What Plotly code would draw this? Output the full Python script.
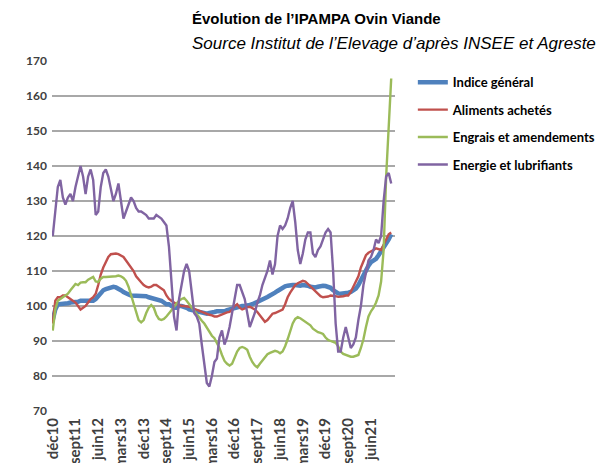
import plotly.graph_objects as go

# ---- Data (monthly, Dec 2010 -> Feb 2022) ----
mois = ["janv", "févr", "mars", "avr", "mai", "juin", "juil", "août", "sept", "oct", "nov", "déc"]
categories = []
for k in range(135):
    m = (11 + k) % 12
    a = 10 + (11 + k) // 12
    categories.append(f"{mois[m]}{a:02d}")

tick_labels = ["déc10", "sept11", "juin12", "mars13", "déc13", "sept14", "juin15", "mars16",
               "déc16", "sept17", "juin18", "mars19", "déc19", "sept20", "juin21"]
y_ticks = [70, 80, 90, 100, 110, 120, 130, 140, 150, 160, 170]

indice_general = [
    96, 99, 100.5, 100.5, 100.5, 100.5, 100.8, 101, 101, 101,
    101.2, 101.5, 101.5, 101.5, 101.7, 101.7, 101.5, 102, 103, 104,
    104.5, 104.8, 105, 105.3, 105.5, 105.3, 105, 104.5, 104, 103.5,
    103.3, 103, 103, 102.8, 102.8, 103, 103, 102.8, 102.5, 102.3,
    102, 101.8, 101.8, 101.5, 101, 100.5, 100.5, 100, 99.5, 99.5,
    100, 100, 99.8, 99.5, 99, 98.8, 98.5, 98.5, 98.3, 98,
    97.8, 97.8, 98, 98, 98.3, 98.5, 98.5, 98.3, 98.5, 98.8,
    99, 99.2, 99.5, 99.8, 100, 100, 100, 100, 100.3, 100.5,
    100.8, 101.2, 101.6, 102, 102.3, 102.6, 103, 103.3, 103.8, 104.3,
    104.8, 105.3, 105.6, 105.8, 106, 106, 106, 105.8, 105.8, 106,
    106, 105.8, 105.5, 105.3, 105.3, 105.5, 105.7, 105.8, 105.7, 105.5,
    105.2, 104.5, 104, 103.6, 103.5, 103.5, 103.6, 103.8, 104, 104.5,
    105, 106, 107.5, 109, 110.5, 111.5, 112.5, 113, 113.5, 114.5,
    115.5, 116.5, 117.5, 119, 120.5,
]

aliments_achetes = [
    95, 101.5, 102.5, 102.5, 103, 103, 102.5, 102, 101.5, 101,
    100, 99, 99.5, 100, 101, 102, 102.5, 103.5, 106, 109,
    111, 112.5, 114, 114.8, 115, 115, 114.8, 114.5, 114, 113,
    112, 111, 110, 108.5, 107.5, 106.8, 106, 105.5, 105.3, 105.5,
    106, 106, 105.5, 105, 104.5, 103, 102, 101.5, 101, 100.5,
    100.3, 100, 100, 100, 99.8, 99.5, 99.2, 99, 98.5, 98.3,
    98, 97.8, 97.5, 97.3, 97, 97, 97.3, 97.8, 98, 98.2,
    98.3, 99, 100, 100.5, 99.5, 99, 99.3, 99.7, 99.8, 99.5,
    99, 98.3, 97.3, 96.3, 95.5, 96, 97, 97.8, 98, 98.3,
    98.6, 99, 100.5, 102.5, 103.8, 105, 106, 106.5, 106.8, 107.2,
    107, 106.3, 105.5, 104.8, 104, 103.3, 102.8, 102.5, 102.5, 102.7,
    103, 103, 102.8, 102.6, 102.6, 102.8, 103, 103, 104, 105.5,
    106.8, 108.5, 111, 113, 114.5, 115.2, 115.5, 116, 116.5, 116.3,
    116, 117.5, 119, 120.5, 121,
]

engrais_amendements = [
    93, 99, 101.5, 102, 102.5, 103, 103.5, 104.5, 105.5, 106.3,
    106, 106.7, 106.8, 106.8, 107.5, 108, 108.3, 107, 106.9, 107.8,
    108.3, 108.3, 108.3, 108.3, 108.3, 108.5, 108.7, 108.5, 108, 107.2,
    105.5, 103, 100.5, 98, 96, 95.3, 96, 98, 99.5, 100.3,
    99.5, 97.5, 96.3, 96, 96.3, 97, 97.8, 98.8, 99.8, 100.8,
    101.5, 102, 102.3, 101.5, 100.5, 99.5, 98.8, 97.8, 96.8, 95.8,
    95, 93.8, 92.5, 91.5, 90.8, 89.5, 88, 86, 84.3, 83.5,
    83, 83.5, 85.5, 87, 88, 88.3, 88, 87.5, 85.5, 84,
    83, 82.5, 83.5, 84.5, 85.5, 86.2, 86.6, 87, 87.2, 87,
    86.5, 87, 88.5, 90.5, 93, 95, 96.3, 96.8, 96.5, 96,
    95.5, 95, 94.5, 93.5, 93, 92.5, 92.3, 92, 91, 90.3,
    90, 89.7, 89.5, 88.5, 87, 86.3, 86, 85.8, 85.5, 85.5,
    85.8, 86, 88, 90.5, 94, 97, 98.5, 99.5, 101, 103,
    107, 116, 137, 151, 165,
]

energie_lubrifiants = [
    120, 127, 134, 136, 131, 129, 131, 132, 130, 134,
    137, 140, 137, 132, 137, 139, 136, 126, 127, 134,
    138, 139, 137, 133, 130, 132, 135, 130, 125, 127,
    129, 131, 130, 128, 127, 127, 126.5, 126, 125, 125,
    125, 126, 125.5, 125, 124, 123, 117, 107, 97, 93,
    102, 106, 110, 112, 110, 104, 98, 97, 95, 89,
    84, 78, 77, 80, 84, 85, 91, 93, 89, 91,
    94, 98, 102, 106, 106, 104, 102, 98, 94, 96,
    98, 101, 103, 106, 108, 110, 113, 109, 112, 120,
    123, 122, 123, 125, 128, 130, 124, 116, 112, 115,
    119, 121, 121, 115, 114, 116, 117, 119, 121, 122,
    121, 110, 95, 87, 87, 91, 94, 91, 88, 89,
    91, 96, 100, 106, 110, 113, 114, 116, 119, 118,
    120, 130, 137, 138, 135,
]

series_names = ["Indice général", "Aliments achetés", "Engrais et amendements", "Energie et lubrifiants"]
series_values = [indice_general, aliments_achetes, engrais_amendements, energie_lubrifiants]
series_colors = ["#4F81BD", "#C0504D", "#9BBB59", "#8064A2"]
series_widths = [4.5, 2.4, 2.4, 2.4]

fig = go.Figure()
for i, (name, vals, col, w) in enumerate(zip(series_names, series_values, series_colors, series_widths)):
    fig.add_trace(go.Scatter(
        x=categories, y=vals, mode="lines", name=name,
        line=dict(color=col, width=w), legendgroup=f"g{i}",
    ))

fig.update_layout(
    template="none",
    width=605, height=463,
    margin=dict(l=52, r=210, t=61, b=52, pad=0, autoexpand=False),
    paper_bgcolor="white", plot_bgcolor="white",
    showlegend=True,
    legend=dict(
        x=1.052, xanchor="left", y=0.982, yanchor="top",
        font=dict(family="Lato", size=13, color="#000000", weight="bold"),
        tracegroupgap=7.5, bgcolor="rgba(0,0,0,0)",
    ),
    annotations=[
        dict(text="<b>Évolution de l’IPAMPA Ovin Viande</b>", xref="paper", yref="paper",
             x=(190 - 52) / 343, y=(411 - 19) / 350, xanchor="left", yanchor="middle",
             showarrow=False, font=dict(family="Liberation Sans", size=15, color="#000000")),
        dict(text="<i>Source Institut de l’Elevage d’après INSEE et Agreste</i>", xref="paper", yref="paper",
             x=(190 - 52) / 343, y=(411 - 43) / 350, xanchor="left", yanchor="middle",
             showarrow=False, font=dict(family="Liberation Sans", size=17, color="#000000")),
    ],
)

fig.update_xaxes(
    type="category", categoryorder="array", categoryarray=categories,
    tickmode="array", tickvals=tick_labels, ticktext=tick_labels,
    tickangle=-90, range=[-0.3, 135.5], automargin=False,
    showgrid=False, showline=False, zeroline=False, ticks="", ticklabelstandoff=3,
    tickfont=dict(family="Lato", size=15, color="#404040", weight="bold"),
)
fig.update_yaxes(
    type="linear", range=[70, 170], tickmode="array", tickvals=y_ticks, automargin=False,
    showgrid=True, gridcolor="#A8A8A8", gridwidth=1.5, layer="below traces",
    zeroline=False, showline=False, ticks="", ticklabelstandoff=4,
    tickfont=dict(family="Lato", size=12, color="#404040", weight="bold"),
)

# page body has a default 8px margin: remove it so the 605x463 figure fills the window
fig.write_html("out.html", config={"displayModeBar": False},
               post_script="document.body.style.margin='0';")
